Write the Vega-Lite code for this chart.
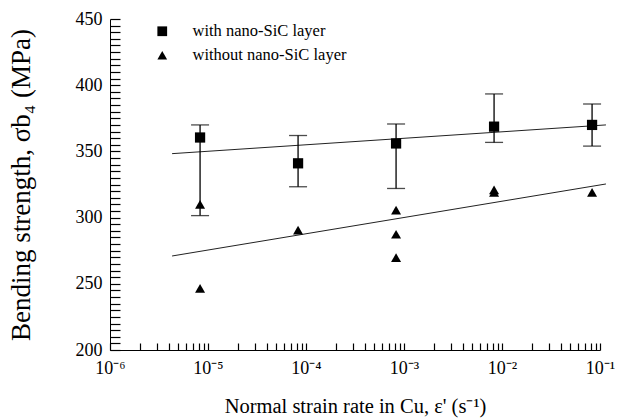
{
  "$schema": "https://vega.github.io/schema/vega-lite/v6.json",
  "autosize": "none",
  "width": 490,
  "height": 331,
  "padding": {"left": 110, "top": 19, "right": 24, "bottom": 69},
  "background": "white",
  "config": {
    "view": {"stroke": null},
    "font": "Liberation Serif",
    "axis": {"grid": false, "domainColor": "black", "domainWidth": 1, "tickColor": "black", "tickWidth": 1.2, "labelColor": "black", "titleColor": "black", "labelFont": "Liberation Serif", "titleFont": "Liberation Serif", "titleFontWeight": "normal", "labelOverlap": false, "labelFlush": false},
    "legend": {"labelFont": "Liberation Serif"}
  },
  "datasets": {
    "pts": [
      {"series": "with nano-SiC layer", "x": 0.0000083, "y": 360.5},
      {"series": "with nano-SiC layer", "x": 0.000083, "y": 341},
      {"series": "with nano-SiC layer", "x": 0.00083, "y": 356},
      {"series": "with nano-SiC layer", "x": 0.0083, "y": 368.7},
      {"series": "with nano-SiC layer", "x": 0.083, "y": 370},
      {"series": "without nano-SiC layer", "x": 0.0000083, "y": 310},
      {"series": "without nano-SiC layer", "x": 0.0000083, "y": 246.6},
      {"series": "without nano-SiC layer", "x": 0.000083, "y": 290.6},
      {"series": "without nano-SiC layer", "x": 0.00083, "y": 305.7},
      {"series": "without nano-SiC layer", "x": 0.00083, "y": 287.4},
      {"series": "without nano-SiC layer", "x": 0.00083, "y": 269.8},
      {"series": "without nano-SiC layer", "x": 0.0083, "y": 321},
      {"series": "without nano-SiC layer", "x": 0.0083, "y": 319},
      {"series": "without nano-SiC layer", "x": 0.083, "y": 319}
    ],
    "err": [
      {"x": 0.0000083, "y": 301.5, "hi": 370},
      {"x": 0.000083, "y": 323.3, "hi": 362},
      {"x": 0.00083, "y": 322, "hi": 370.7},
      {"x": 0.0083, "y": 356.8, "hi": 393.4},
      {"x": 0.083, "y": 354, "hi": 385.8}
    ],
    "fit": [
      {"series": "with", "x": 0.0000043, "y": 348.3},
      {"series": "with", "x": 0.115, "y": 370},
      {"series": "without", "x": 0.0000043, "y": 271},
      {"series": "without", "x": 0.115, "y": 325.4}
    ]
  },
  "encoding": {
    "x": {"field": "x", "type": "quantitative", "scale": {"type": "log", "domain": [0.000001, 0.1], "nice": false},
      "axis": {
        "values": [0.000001,0.000002,0.000003,0.000004,0.000005,0.000006,0.000007,0.000008,0.000009,0.00001,0.00002,0.00003,0.00004,0.00005,0.00006,0.00007,0.00008,0.00009,0.0001,0.0002,0.0003,0.0004,0.0005,0.0006,0.0007,0.0008,0.0009,0.001,0.002,0.003,0.004,0.005,0.006,0.007,0.008,0.009,0.01,0.02,0.03,0.04,0.05,0.06,0.07,0.08,0.09,0.1],
        "labelExpr": "abs(log(datum.value)/LN10 - round(log(datum.value)/LN10)) < 0.001 ? '10⁻' + ['⁰','¹','²','³','⁴','⁵','⁶','⁷'][-round(log(datum.value)/LN10)] : ''",
        "labelFontSize": 18,
        "labelPadding": 16,
        "labelOverlap": false,
        "labelFlush": false,
        "tickSize": -7,
        "title": "Normal strain rate in Cu, ε' (s⁻¹)",
        "titleFontSize": 20.5,
        "titlePadding": 19,
        "encode": {"ticks": {"update": {"y2": {"signal": "abs(log(datum.value)/LN10 - round(log(datum.value)/LN10)) < 0.001 ? -7 : -4"}}}}
      }
    },
    "y": {"field": "y", "type": "quantitative", "scale": {"domain": [200, 450], "nice": false, "zero": false},
      "axis": {
        "values": [200,205,210,215,220,225,230,235,240,245,250,255,260,265,270,275,280,285,290,295,300,305,310,315,320,325,330,335,340,345,350,355,360,365,370,375,380,385,390,395,400,405,410,415,420,425,430,435,440,445,450],
        "labelExpr": "datum.value % 50 == 0 ? datum.label : ''",
        "labelFontSize": 18,
        "labelPadding": 18,
        "labelOverlap": false,
        "tickSize": -10,
        "title": "Bending strength, σb₄ (MPa)",
        "titleFontSize": 27,
        "titlePadding": 40,
        "encode": {"ticks": {"update": {"x2": {"signal": "datum.value % 50 == 0 ? 10 : 2"}}}}
      }
    }
  },
  "layer": [
    {
      "data": {"name": "fit"},
      "mark": {"type": "line", "color": "#222", "strokeWidth": 1, "clip": false},
      "encoding": {"detail": {"field": "series"}}
    },
    {
      "data": {"name": "err"},
      "mark": {"type": "rule", "color": "black", "strokeWidth": 1.3},
      "encoding": {"y2": {"field": "hi"}}
    },
    {
      "data": {"name": "err"},
      "transform": [{"fold": ["y", "hi"], "as": ["k", "y"]}],
      "mark": {"type": "tick", "color": "black", "orient": "horizontal", "size": 18, "thickness": 1.3},
      "encoding": {}
    },
    {
      "data": {"name": "pts"},
      "mark": {"type": "point", "filled": true, "color": "black", "opacity": 1, "size": 100},
      "encoding": {
        "shape": {"field": "series", "type": "nominal",
          "scale": {"domain": ["with nano-SiC layer", "without nano-SiC layer"], "range": ["square", "triangle-up"]},
          "legend": {"title": null, "orient": "none", "legendX": 44, "legendY": 4, "padding": 0, "labelFontSize": 16.5, "labelOffset": 22, "rowPadding": 7, "symbolSize": 95, "symbolFillColor": "black", "symbolStrokeColor": "black", "symbolStrokeWidth": 0, "labelColor": "black"}
        },
        "size": {"condition": {"test": "datum.series == 'without nano-SiC layer'", "value": 100}, "value": 105}
      }
    }
  ]
}
